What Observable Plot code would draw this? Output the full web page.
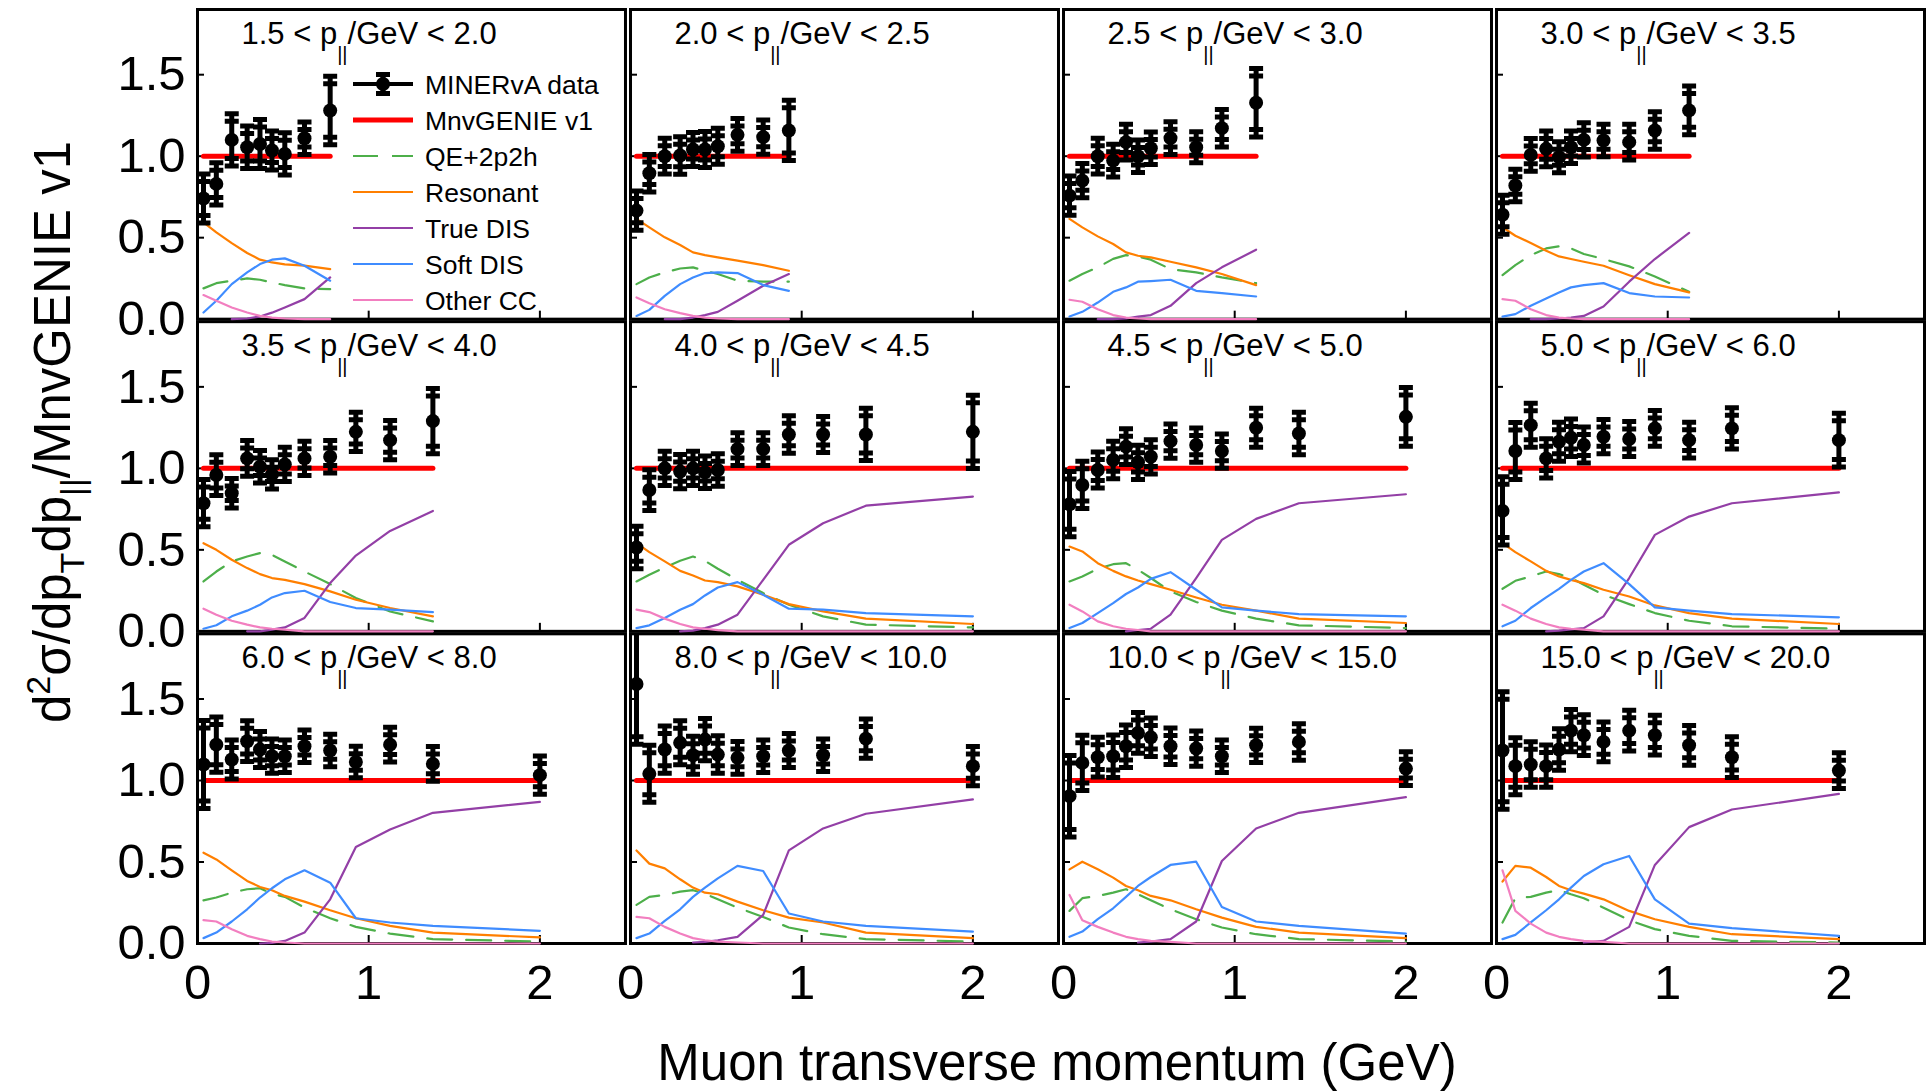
<!DOCTYPE html>
<html>
<head>
<meta charset="utf-8">
<script src="https://cdn.jsdelivr.net/npm/d3@7"></script>
<script src="https://cdn.jsdelivr.net/npm/@observablehq/plot@0.6"></script>
<style>
  html, body { margin: 0; padding: 0; background: #fff; }
  #chart { position: relative; width: 1932px; height: 1092px; }
</style>
</head>
<body>
<div id="chart"></div>
<script>
// Longitudinal muon momentum slices (GeV), one panel per slice
const pParallelLow  = [1.5, 2.0, 2.5, 3.0, 3.5, 4.0, 4.5, 5.0, 6.0, 8.0, 10.0, 15.0];
const pParallelHigh = [2.0, 2.5, 3.0, 3.5, 4.0, 4.5, 5.0, 6.0, 8.0, 10.0, 15.0, 20.0];

// Transverse momentum bin centres (GeV)
const ptCenters = [0.035, 0.11, 0.2, 0.29, 0.365, 0.435, 0.51, 0.625, 0.775, 0.925, 1.125, 1.375, 2.0];

// Data / MnvGENIE v1 ratio, per slice
const dataRatio = [
  [0.74, 0.83, 1.10, 1.055, 1.075, 1.035, 1.014, 1.11, 1.28],
  [0.666, 0.895, 1.0, 1.004, 1.041, 1.041, 1.061, 1.131, 1.117, 1.158],
  [0.758, 0.85, 1.0, 0.973, 1.086, 1.0, 1.049, 1.111, 1.055, 1.172, 1.328],
  [0.641, 0.82, 1.008, 1.045, 0.994, 1.055, 1.1, 1.096, 1.086, 1.158, 1.281],
  [0.786, 0.959, 0.847, 1.061, 1.01, 0.963, 1.024, 1.061, 1.071, 1.224, 1.173, 1.29],
  [0.514, 0.867, 1.0, 0.98, 1.0, 0.976, 0.99, 1.118, 1.118, 1.208, 1.208, 1.208, 1.224],
  [0.78, 0.898, 0.99, 1.051, 1.133, 1.037, 1.071, 1.167, 1.143, 1.106, 1.249, 1.214, 1.316],
  [0.739, 1.106, 1.265, 1.061, 1.163, 1.188, 1.143, 1.194, 1.18, 1.245, 1.173, 1.245, 1.173],
  [1.098, 1.22, 1.129, 1.241, 1.19, 1.149, 1.149, 1.21, 1.184, 1.114, 1.22, 1.102, 1.033],
  [1.592, 1.041, 1.19, 1.231, 1.155, 1.251, 1.159, 1.139, 1.149, 1.184, 1.155, 1.257, 1.088],
  [0.904, 1.108, 1.143, 1.149, 1.21, 1.292, 1.265, 1.21, 1.196, 1.149, 1.216, 1.237, 1.073],
  [1.184, 1.088, 1.098, 1.088, 1.19, 1.306, 1.278, 1.237, 1.306, 1.278, 1.216, 1.143, 1.061]
];

// Total uncertainty on the ratio, per slice
const dataError = [
  [0.15, 0.13, 0.16, 0.13, 0.15, 0.12, 0.13, 0.10, 0.21],
  [0.12, 0.115, 0.11, 0.115, 0.105, 0.11, 0.11, 0.10, 0.105, 0.185],
  [0.12, 0.105, 0.11, 0.10, 0.11, 0.10, 0.10, 0.10, 0.095, 0.115, 0.21],
  [0.12, 0.10, 0.10, 0.11, 0.095, 0.10, 0.105, 0.10, 0.11, 0.115, 0.15],
  [0.145, 0.125, 0.09, 0.11, 0.10, 0.09, 0.105, 0.105, 0.10, 0.12, 0.12, 0.20],
  [0.13, 0.125, 0.105, 0.105, 0.105, 0.10, 0.10, 0.10, 0.10, 0.115, 0.11, 0.16, 0.225],
  [0.2, 0.145, 0.11, 0.115, 0.11, 0.105, 0.105, 0.105, 0.105, 0.105, 0.12, 0.13, 0.18],
  [0.21, 0.175, 0.135, 0.12, 0.12, 0.115, 0.11, 0.105, 0.107, 0.11, 0.11, 0.127, 0.165],
  [0.27, 0.17, 0.12, 0.125, 0.11, 0.105, 0.10, 0.10, 0.10, 0.097, 0.107, 0.106, 0.117],
  [0.37, 0.175, 0.145, 0.135, 0.117, 0.13, 0.115, 0.10, 0.10, 0.104, 0.10, 0.12, 0.12],
  [0.25, 0.17, 0.122, 0.13, 0.13, 0.125, 0.118, 0.112, 0.108, 0.10, 0.105, 0.112, 0.104],
  [0.36, 0.175, 0.14, 0.13, 0.127, 0.13, 0.125, 0.122, 0.125, 0.122, 0.122, 0.125, 0.11]
];

// Model ratio of MnvGENIE v1 to itself
const mnvgenieRatio = 1;

// Interaction-channel fractions of MnvGENIE v1, per slice (null = not drawn)
const qe2p2h = [
  [0.189, 0.221, 0.236, 0.25, 0.242, 0.225, 0.209, 0.189, 0.184],
  [0.215, 0.256, 0.287, 0.311, 0.318, 0.297, 0.277, 0.236, 0.23, 0.23],
  [0.236, 0.277, 0.318, 0.37, 0.393, 0.385, 0.365, 0.307, 0.287, 0.256, 0.221],
  [0.27, 0.332, 0.393, 0.434, 0.447, 0.434, 0.4, 0.369, 0.324, 0.262, 0.168],
  [0.306, 0.367, 0.429, 0.459, 0.48, 0.469, 0.429, 0.367, 0.29, 0.204, 0.122, 0.061],
  [0.306, 0.347, 0.392, 0.433, 0.459, 0.433, 0.384, 0.316, 0.235, 0.163, 0.092, 0.041, 0.024],
  [0.306, 0.337, 0.384, 0.412, 0.418, 0.378, 0.327, 0.245, 0.18, 0.127, 0.078, 0.037, 0.02],
  [0.261, 0.31, 0.337, 0.367, 0.351, 0.327, 0.286, 0.224, 0.167, 0.112, 0.065, 0.031, 0.016],
  [0.265, 0.282, 0.312, 0.333, 0.339, 0.306, 0.286, 0.22, 0.155, 0.102, 0.061, 0.027, 0.012],
  [0.237, 0.286, 0.298, 0.318, 0.327, 0.306, 0.271, 0.22, 0.163, 0.098, 0.057, 0.027, 0.012],
  [0.2, 0.278, 0.292, 0.312, 0.333, 0.302, 0.265, 0.21, 0.149, 0.098, 0.057, 0.027, 0.012],
  [0.129, 0.278, 0.286, 0.312, 0.327, 0.302, 0.278, 0.22, 0.143, 0.088, 0.047, 0.016, 0.006]
];
const resonant = [
  [0.594, 0.533, 0.467, 0.406, 0.365, 0.348, 0.336, 0.328, 0.307],
  [0.615, 0.563, 0.502, 0.455, 0.41, 0.393, 0.379, 0.359, 0.332, 0.297],
  [0.615, 0.563, 0.508, 0.461, 0.41, 0.389, 0.379, 0.352, 0.318, 0.277, 0.209],
  [0.564, 0.512, 0.467, 0.42, 0.385, 0.369, 0.352, 0.328, 0.27, 0.215, 0.164],
  [0.541, 0.5, 0.439, 0.388, 0.351, 0.327, 0.316, 0.29, 0.245, 0.194, 0.143, 0.092],
  [0.541, 0.486, 0.429, 0.371, 0.343, 0.312, 0.302, 0.276, 0.224, 0.167, 0.122, 0.078, 0.045],
  [0.52, 0.49, 0.418, 0.371, 0.337, 0.312, 0.29, 0.255, 0.208, 0.163, 0.127, 0.078, 0.051],
  [0.541, 0.486, 0.429, 0.371, 0.337, 0.316, 0.296, 0.255, 0.214, 0.159, 0.112, 0.078, 0.045],
  [0.557, 0.516, 0.449, 0.384, 0.347, 0.327, 0.292, 0.257, 0.204, 0.155, 0.108, 0.067, 0.037],
  [0.571, 0.49, 0.461, 0.394, 0.343, 0.312, 0.302, 0.257, 0.204, 0.159, 0.129, 0.067, 0.033],
  [0.455, 0.502, 0.455, 0.404, 0.353, 0.327, 0.292, 0.265, 0.21, 0.159, 0.102, 0.067, 0.033],
  [0.38, 0.476, 0.465, 0.408, 0.353, 0.327, 0.306, 0.271, 0.2, 0.149, 0.102, 0.057, 0.027]
];
const trueDIS = [
  [null, null, 0, 0.004, 0.016, 0.04, 0.072, 0.123, 0.256],
  [null, null, 0, 0, 0.01, 0.025, 0.045, 0.113, 0.205, 0.277],
  [null, null, 0, 0, 0.004, 0.016, 0.025, 0.082, 0.221, 0.318, 0.426],
  [null, null, 0, 0, 0.004, 0.01, 0.02, 0.078, 0.23, 0.369, 0.529],
  [null, null, null, 0, 0, 0.01, 0.024, 0.082, 0.296, 0.465, 0.616, 0.739],
  [null, null, null, 0, 0.004, 0.02, 0.041, 0.102, 0.316, 0.531, 0.663, 0.771, 0.827],
  [null, null, null, null, 0, 0.008, 0.016, 0.102, 0.327, 0.561, 0.69, 0.786, 0.841],
  [null, null, null, 0, 0.004, 0.012, 0.02, 0.092, 0.327, 0.592, 0.704, 0.786, 0.853],
  [null, null, null, null, 0, 0.004, 0.016, 0.067, 0.271, 0.592, 0.7, 0.802, 0.869],
  [null, null, null, null, 0.006, 0.01, 0.02, 0.041, 0.176, 0.571, 0.706, 0.796, 0.884],
  [null, null, null, null, null, 0.006, 0.012, 0.027, 0.135, 0.506, 0.706, 0.802, 0.898],
  [null, null, null, null, null, null, 0.006, 0.016, 0.102, 0.482, 0.714, 0.822, 0.918]
];
const softDIS = [
  [0.041, 0.113, 0.215, 0.287, 0.338, 0.365, 0.373, 0.328, 0.236],
  [0.02, 0.057, 0.143, 0.215, 0.256, 0.283, 0.287, 0.283, 0.209, 0.174],
  [0.016, 0.045, 0.102, 0.168, 0.195, 0.23, 0.234, 0.242, 0.174, 0.16, 0.139],
  [0.016, 0.031, 0.082, 0.127, 0.164, 0.195, 0.209, 0.221, 0.16, 0.139, 0.133],
  [0.016, 0.037, 0.092, 0.127, 0.163, 0.208, 0.235, 0.249, 0.18, 0.143, 0.133, 0.118],
  [0.02, 0.037, 0.082, 0.133, 0.167, 0.22, 0.269, 0.302, 0.224, 0.139, 0.133, 0.112, 0.092],
  [0.02, 0.051, 0.112, 0.173, 0.229, 0.269, 0.322, 0.363, 0.255, 0.147, 0.127, 0.106, 0.092],
  [0.031, 0.065, 0.143, 0.208, 0.261, 0.316, 0.367, 0.418, 0.29, 0.147, 0.127, 0.106, 0.086],
  [0.033, 0.067, 0.135, 0.21, 0.282, 0.339, 0.394, 0.449, 0.373, 0.155, 0.129, 0.108, 0.078],
  [0.033, 0.061, 0.139, 0.21, 0.286, 0.343, 0.4, 0.476, 0.445, 0.184, 0.135, 0.108, 0.073],
  [0.041, 0.073, 0.149, 0.216, 0.286, 0.353, 0.408, 0.482, 0.502, 0.224, 0.135, 0.108, 0.061],
  [0.027, 0.053, 0.129, 0.204, 0.271, 0.343, 0.414, 0.486, 0.537, 0.271, 0.122, 0.094, 0.047]
];
const otherCC = [
  [0.148, 0.113, 0.072, 0.041, 0.02, 0.01, 0.004, 0, 0],
  [0.133, 0.098, 0.061, 0.037, 0.02, 0.01, 0.004, 0, 0, 0],
  [0.119, 0.107, 0.061, 0.025, 0.01, 0.004, 0, 0, 0, 0, 0],
  [0.123, 0.113, 0.061, 0.025, 0.01, 0.004, 0, 0, 0, 0, 0],
  [0.139, 0.102, 0.065, 0.041, 0.024, 0.016, 0.01, 0, 0, 0, 0, 0],
  [0.133, 0.118, 0.078, 0.045, 0.024, 0.016, 0.008, 0, 0, 0, 0, 0, 0],
  [0.163, 0.122, 0.061, 0.031, 0.016, 0.008, 0, 0, 0, 0, 0, 0, 0],
  [0.163, 0.127, 0.078, 0.045, 0.024, 0.016, 0.01, 0, 0, 0, 0, 0, 0],
  [0.143, 0.135, 0.088, 0.047, 0.027, 0.012, 0.006, 0, 0, 0, 0, 0, 0],
  [0.163, 0.155, 0.102, 0.061, 0.033, 0.02, 0.012, 0.006, 0, 0, 0, 0, 0],
  [0.298, 0.143, 0.102, 0.067, 0.041, 0.027, 0.016, 0.01, 0, 0, 0, 0, 0],
  [0.449, 0.2, 0.122, 0.067, 0.041, 0.027, 0.016, 0.01, 0, 0, 0, 0, 0]
];

// Series styling
const channels = [
  {name: "QE+2p2h",   values: qe2p2h,   color: "#4daf4a", dash: "25,14"},
  {name: "Resonant",  values: resonant, color: "#ff7f00", dash: null},
  {name: "True DIS",  values: trueDIS,  color: "#933fa6", dash: null},
  {name: "Soft DIS",  values: softDIS,  color: "#3f8cff", dash: null},
  {name: "Other CC",  values: otherCC,  color: "#f27fc0", dash: null}
];
const FONT = "'Liberation Sans', Arial, Helvetica, sans-serif";

// ---- tidy tables built from the arrays above ----
const panels = pParallelLow.map((lo, i) => ({
  col: i % 4, row: Math.floor(i / 4),
  label: `${lo.toFixed(1)} < p||/GeV < ${pParallelHigh[i].toFixed(1)}`
}));

const points = [];
const model = [];
panels.forEach((p, i) => {
  dataRatio[i].forEach((v, j) => {
    points.push({col: p.col, row: p.row, pt: ptCenters[j], ratio: v, err: dataError[i][j]});
    model.push({col: p.col, row: p.row, pt: ptCenters[j], ratio: mnvgenieRatio});
  });
});

const curves = channels.map(c => {
  const rows = [];
  panels.forEach((p, i) => {
    c.values[i].forEach((v, j) => {
      if (v != null) rows.push({col: p.col, row: p.row, pt: ptCenters[j], value: v});
    });
  });
  return {...c, rows};
});

// Error-bar end caps: an outer cap plus a second (statistical) cap just inside it
const capTop = {draw(ctx) { ctx.rect(-7, -2.5, 14, 5); ctx.rect(-7, 5, 14, 5); }};
const capBottom = {draw(ctx) { ctx.rect(-7, -2.5, 14, 5); ctx.rect(-7, -10, 14, 5); }};

const facet = {fx: "col", fy: "row"};

const chart = Plot.plot({
  width: 1932,
  height: 1092,
  marginLeft: 197,
  marginRight: 8,
  marginTop: 9,
  marginBottom: 149,
  style: {fontFamily: FONT, background: "white", color: "black"},
  fx: {domain: [0, 1, 2, 3], paddingInner: 0.0116, axis: null, round: false},
  fy: {domain: [0, 1, 2], paddingInner: 0.008, axis: null, round: false},
  x: {domain: [0, 2.5]},
  y: {domain: [0, 1.9]},
  marks: [
    Plot.frame({stroke: "black", strokeWidth: 3}),
    // inward ticks on every panel
    Plot.axisY({ticks: [0.5, 1, 1.5], tickSize: -7, tickFormat: () => "", strokeWidth: 2, facetAnchor: null, label: null}),
    Plot.axisX({ticks: [1, 2], tickSize: -8, tickFormat: () => "", strokeWidth: 2, facetAnchor: null, label: null}),
    // tick labels on the outer panels
    Plot.axisY({ticks: [0, 0.5, 1, 1.5], tickSize: 0, tickPadding: 12, tickFormat: d3.format(".1f"), fontSize: 49, label: null}),
    Plot.axisX({ticks: [0, 1, 2], tickSize: 0, tickPadding: 21, tickFormat: d3.format("d"), fontSize: 49, label: null}),
    // interaction channels
    ...curves.map(c => Plot.line(c.rows, {
      ...facet, x: "pt", y: "value", z: "col",
      stroke: c.color, strokeWidth: 2.2, strokeDasharray: c.dash, strokeLinejoin: "round"
    })),
    // MnvGENIE v1 reference
    Plot.line(model, {...facet, x: "pt", y: "ratio", stroke: "#ff0000", strokeWidth: 5}),
    // data with uncertainties
    Plot.ruleX(points, {...facet, x: "pt", y1: d => d.ratio - d.err, y2: d => d.ratio + d.err, stroke: "black", strokeWidth: 5, clip: true}),
    Plot.dot(points, {...facet, x: "pt", y: d => d.ratio + d.err, symbol: capTop, r: 5, fill: "black", clip: true}),
    Plot.dot(points, {...facet, x: "pt", y: d => d.ratio - d.err, symbol: capBottom, r: 5, fill: "black", clip: true}),
    Plot.dot(points, {...facet, x: "pt", y: "ratio", r: 7, fill: "black"}),
    // slice labels
    Plot.text(panels, {
      ...facet, text: "label", frameAnchor: "top-left", dx: 44, dy: 34,
      lineAnchor: "bottom", textAnchor: "start", fontSize: 31, className: "slice-title"
    })
  ]
});

document.getElementById("chart").append(chart);

const svg = d3.select(chart);

// p-parallel subscripts in the slice labels
svg.selectAll("g.slice-title text").each(function () {
  const t = d3.select(this);
  const [a, b] = t.text().split("||");
  t.text(null);
  t.append("tspan").text(a);
  t.append("tspan").attr("font-size", 20).attr("dy", 17).text("||");
  t.append("tspan").attr("dy", -17).text(b);
});

// axis titles
svg.append("text")
  .attr("x", 1057).attr("y", 1080)
  .attr("text-anchor", "middle")
  .attr("font-family", FONT).attr("font-size", 51)
  .attr("fill", "black")
  .text("Muon transverse momentum (GeV)");

const yt = svg.append("text")
  .attr("transform", "translate(70,432) rotate(-90)")
  .attr("text-anchor", "middle")
  .attr("font-family", FONT).attr("font-size", 51)
  .attr("fill", "black");
yt.append("tspan").text("d");
yt.append("tspan").attr("font-size", 34).attr("dy", -20).text("2");
yt.append("tspan").attr("dy", 20).text("σ/dp");
yt.append("tspan").attr("font-size", 34).attr("dy", 14).text("T");
yt.append("tspan").attr("dy", -14).text("dp");
yt.append("tspan").attr("font-size", 34).attr("dy", 14).text("||");
yt.append("tspan").attr("dy", -14).text("/MnvGENIE v1");

// legend inside the first panel
const legendItems = [
  {label: "MINERvA data", kind: "data"},
  {label: "MnvGENIE v1", color: "#ff0000", width: 5},
  ...channels.map(c => ({label: c.name, color: c.color, width: 2.2, dash: c.dash}))
];
const lg = svg.append("g")
  .attr("font-family", FONT).attr("font-size", 26.5).attr("text-anchor", "start");
legendItems.forEach((item, i) => {
  const cy = 84 + i * 36;
  const g = lg.append("g");
  if (item.kind === "data") {
    g.append("line").attr("x1", 353).attr("x2", 413).attr("y1", cy).attr("y2", cy)
      .attr("stroke", "black").attr("stroke-width", 4);
    g.append("line").attr("x1", 383).attr("x2", 383).attr("y1", cy - 10).attr("y2", cy + 10)
      .attr("stroke", "black").attr("stroke-width", 5);
    g.append("rect").attr("x", 376).attr("y", cy - 12).attr("width", 14).attr("height", 5);
    g.append("rect").attr("x", 376).attr("y", cy + 7).attr("width", 14).attr("height", 5);
    g.append("circle").attr("cx", 383).attr("cy", cy).attr("r", 7);
  } else {
    g.append("line").attr("x1", 353).attr("x2", 413).attr("y1", cy).attr("y2", cy)
      .attr("stroke", item.color).attr("stroke-width", item.width)
      .attr("stroke-dasharray", item.dash);
  }
  g.append("text").attr("x", 425).attr("y", cy + 9.5).attr("fill", "black")
    .attr("text-anchor", "start").text(item.label);
});
</script>
</body>
</html>
